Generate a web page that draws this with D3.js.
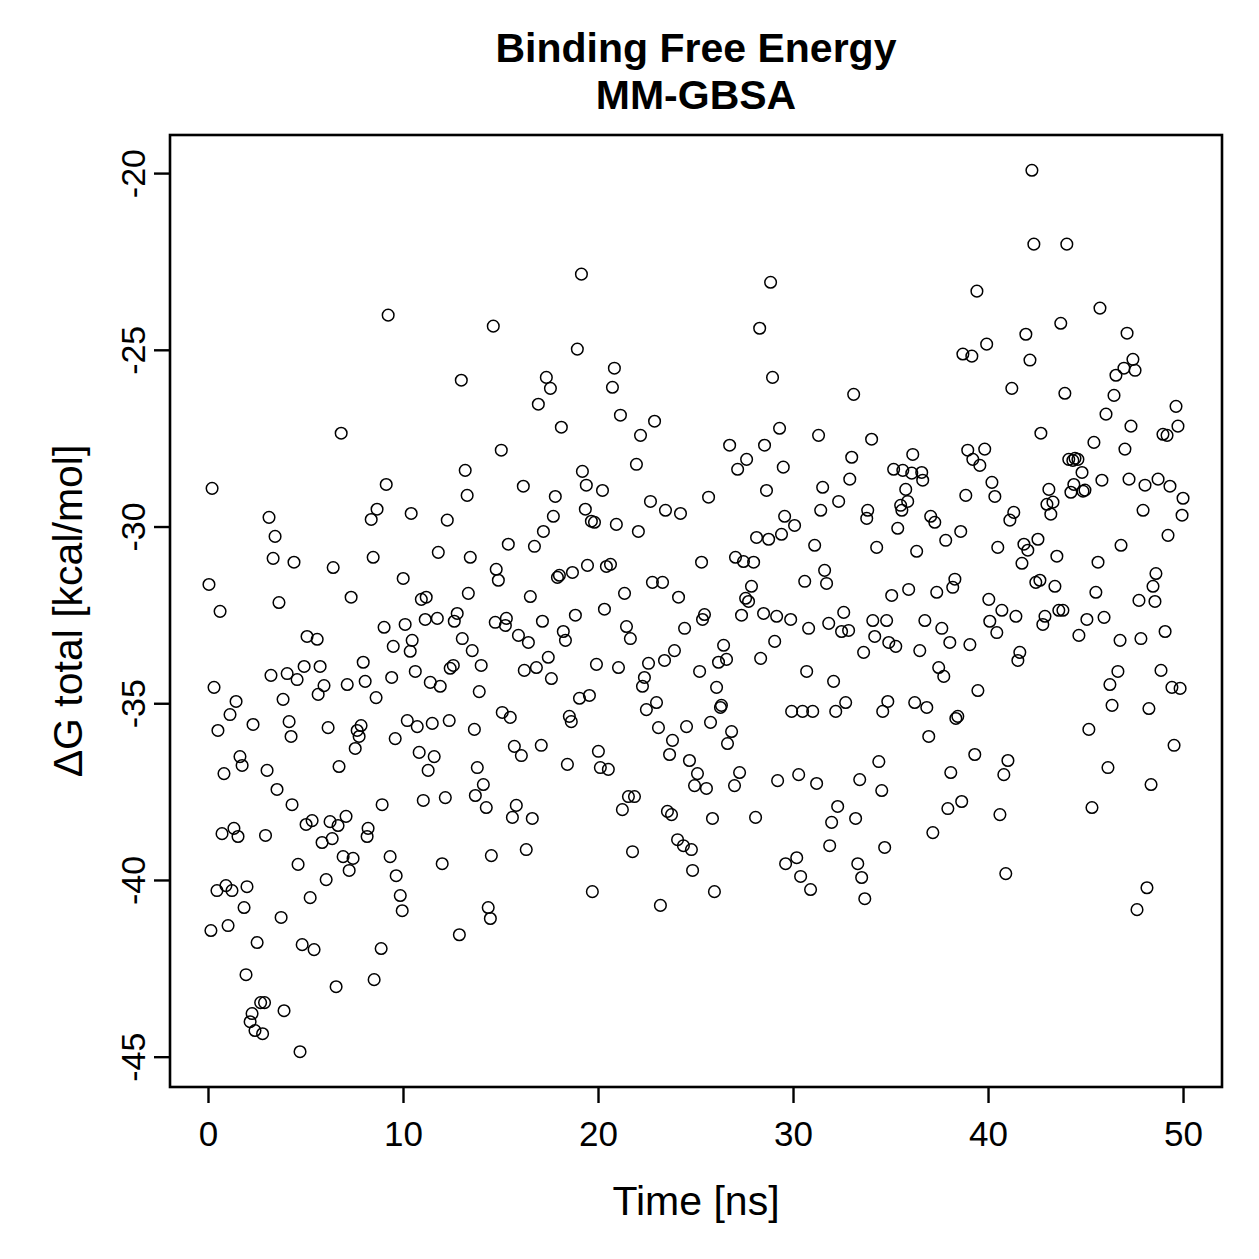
<!DOCTYPE html>
<html>
<head>
<meta charset="utf-8">
<script src="https://cdn.jsdelivr.net/npm/d3@7"></script>
<style>
  html, body { margin: 0; padding: 0; background: #fff; }
  svg text { font-family: "Liberation Sans", Arial, Helvetica, sans-serif; fill: #000; }
</style>
</head>
<body>
<svg id="chart" width="1259" height="1259"></svg>
<script>
// [time (ns), dG total (kcal/mol)]
const frames = [
  [0.05,-31.64],[0.15,-41.43],[0.21,-28.92],[0.31,-34.55],[0.46,-40.30],[0.51,-35.77],[0.62,-32.40],[0.72,-38.69],[0.82,-36.99],[0.92,-40.16],
  [1.03,-41.29],[1.13,-35.32],[1.23,-40.30],[1.33,-38.54],[1.44,-34.95],[1.54,-38.77],[1.64,-36.51],[1.75,-36.76],[1.85,-40.78],[1.95,-42.68],
  [2.00,-40.19],[2.16,-44.01],[2.26,-43.78],[2.31,-35.60],[2.41,-44.26],[2.52,-41.77],[2.70,-43.47],[2.80,-44.35],[2.90,-43.47],[2.95,-38.74],
  [3.03,-36.90],[3.13,-29.74],[3.23,-34.21],[3.34,-30.90],[3.44,-30.28],[3.54,-37.44],[3.64,-32.15],[3.75,-41.06],[3.85,-34.89],[3.90,-43.70],
  [4.06,-34.16],[4.16,-35.52],[4.26,-35.94],[4.31,-37.87],[4.41,-31.01],[4.57,-34.33],[4.62,-39.56],[4.72,-44.86],[4.83,-41.83],[4.93,-33.96],
  [5.03,-38.43],[5.08,-33.11],[5.24,-40.50],[5.34,-38.32],[5.44,-41.97],[5.60,-33.19],[5.65,-34.75],[5.75,-33.96],[5.85,-38.94],[5.95,-34.50],
  [6.06,-39.99],[6.16,-35.69],[6.26,-38.35],[6.37,-38.83],[6.42,-31.16],[6.57,-43.02],[6.67,-38.46],[6.72,-36.79],[6.83,-27.36],[6.93,-39.34],
  [7.08,-38.20],[7.14,-34.47],[7.24,-39.73],[7.34,-32.00],[7.44,-39.39],[7.55,-36.28],[7.65,-35.77],[7.75,-35.94],[7.85,-35.63],[7.96,-33.84],
  [8.06,-34.38],[8.16,-38.77],[8.21,-38.54],[8.37,-29.80],[8.47,-30.87],[8.52,-42.82],[8.62,-34.84],[8.67,-29.51],[8.88,-41.94],[8.93,-37.87],
  [9.03,-32.85],[9.14,-28.81],[9.24,-24.02],[9.34,-39.34],[9.42,-34.27],[9.50,-33.39],[9.60,-36.00],[9.65,-39.88],[9.86,-40.44],[9.96,-40.87],
  [10.01,-31.47],[10.11,-32.77],[10.22,-35.49],[10.37,-33.53],[10.42,-29.63],[10.47,-33.22],[10.63,-34.10],[10.73,-35.66],[10.83,-36.39],[10.94,-32.06],
  [11.04,-37.75],[11.14,-32.63],[11.19,-32.00],[11.29,-36.90],[11.40,-34.41],[11.50,-35.57],[11.60,-36.51],[11.76,-32.60],[11.81,-30.73],[11.91,-34.52],
  [12.01,-39.54],[12.17,-37.67],[12.27,-29.82],[12.37,-35.49],[12.42,-34.01],[12.58,-33.93],[12.63,-32.68],[12.78,-32.46],[12.89,-41.55],[12.99,-25.86],
  [13.04,-33.17],[13.19,-28.41],[13.29,-29.12],[13.35,-31.89],[13.45,-30.87],[13.55,-33.51],[13.66,-35.74],[13.71,-37.61],[13.81,-36.82],[13.91,-34.67],
  [14.01,-33.93],[14.12,-37.30],[14.27,-37.95],[14.37,-40.78],[14.48,-41.09],[14.53,-39.31],[14.63,-24.33],[14.73,-32.71],[14.78,-31.21],[14.89,-31.52],
  [15.04,-27.84],[15.09,-35.26],[15.25,-32.80],[15.30,-32.60],[15.40,-30.50],[15.50,-35.40],[15.61,-38.23],[15.71,-36.22],[15.81,-37.89],[15.92,-33.08],
  [16.07,-36.48],[16.17,-28.86],[16.22,-34.07],[16.32,-39.14],[16.43,-33.28],[16.53,-31.98],[16.63,-38.26],[16.74,-30.56],[16.84,-33.99],[16.94,-26.54],
  [17.09,-36.19],[17.15,-32.68],[17.20,-30.14],[17.35,-25.78],[17.45,-33.70],[17.56,-26.09],[17.61,-34.30],[17.71,-29.71],[17.81,-29.15],[17.92,-31.44],
  [18.02,-31.38],[18.12,-27.19],[18.22,-32.97],[18.33,-33.22],[18.43,-36.73],[18.53,-35.37],[18.63,-35.52],[18.69,-31.30],[18.84,-32.51],[18.94,-24.98],
  [19.05,-34.86],[19.15,-22.86],[19.20,-28.44],[19.35,-29.51],[19.40,-28.83],[19.46,-31.10],[19.56,-34.78],[19.66,-29.85],[19.71,-40.33],[19.82,-29.88],
  [19.92,-33.90],[20.02,-36.36],[20.12,-36.82],[20.23,-28.98],[20.33,-32.34],[20.43,-31.13],[20.53,-36.87],[20.64,-31.07],[20.74,-26.06],[20.84,-25.52],
  [20.94,-29.94],[21.05,-33.99],[21.15,-26.85],[21.25,-38.01],[21.36,-31.89],[21.46,-32.83],[21.56,-37.64],[21.66,-33.17],[21.77,-39.20],[21.87,-37.64],
  [21.97,-28.24],[22.07,-30.14],[22.18,-27.42],[22.28,-34.52],[22.38,-34.27],[22.48,-35.18],[22.59,-33.87],[22.69,-29.29],[22.79,-31.58],[22.90,-27.02],
  [23.00,-34.98],[23.10,-35.69],[23.20,-40.72],[23.31,-31.58],[23.41,-33.79],[23.46,-29.54],[23.56,-38.06],[23.67,-36.45],[23.77,-38.15],[23.82,-36.05],
  [23.92,-33.51],[24.08,-38.86],[24.13,-32.00],[24.23,-29.63],[24.38,-39.03],[24.44,-32.88],[24.54,-35.66],[24.69,-36.62],[24.79,-39.14],[24.85,-39.73],
  [24.95,-37.33],[25.10,-36.99],[25.21,-34.10],[25.31,-31.01],[25.36,-32.63],[25.46,-32.49],[25.56,-37.41],[25.67,-29.17],[25.77,-35.54],[25.87,-38.26],
  [25.97,-40.33],[26.08,-34.55],[26.18,-33.84],[26.28,-35.12],[26.33,-35.06],[26.44,-33.36],[26.59,-33.76],[26.64,-36.14],[26.75,-27.70],[26.85,-35.80],
  [27.00,-37.33],[27.05,-30.87],[27.16,-28.38],[27.26,-36.96],[27.36,-32.51],[27.46,-30.99],[27.57,-32.03],[27.62,-28.10],[27.72,-32.12],[27.87,-31.69],
  [27.98,-31.01],[28.08,-38.23],[28.13,-30.31],[28.29,-24.39],[28.34,-33.73],[28.49,-32.46],[28.54,-27.70],[28.64,-28.98],[28.75,-30.36],[28.85,-23.09],
  [28.95,-25.78],[29.06,-33.25],[29.16,-32.54],[29.21,-37.19],[29.31,-27.22],[29.41,-30.22],[29.50,-28.32],[29.57,-29.71],[29.62,-39.54],[29.88,-32.63],
  [29.93,-35.23],[30.08,-29.97],[30.19,-39.37],[30.29,-37.02],[30.39,-39.90],[30.49,-35.23],[30.60,-31.55],[30.70,-34.10],[30.80,-32.88],[30.90,-40.27],
  [31.01,-35.23],[31.11,-30.53],[31.21,-37.27],[31.31,-27.42],[31.42,-29.54],[31.52,-28.89],[31.62,-31.24],[31.72,-31.61],[31.83,-32.74],[31.88,-39.03],
  [31.98,-38.37],[32.08,-34.38],[32.19,-35.23],[32.29,-37.92],[32.34,-29.29],[32.49,-32.97],[32.60,-32.43],[32.70,-34.98],[32.85,-32.94],[32.91,-28.66],
  [33.01,-28.04],[33.11,-26.26],[33.21,-38.26],[33.32,-39.54],[33.42,-37.16],[33.52,-39.93],[33.62,-33.56],[33.68,-40.53],[33.78,-29.77],[33.83,-29.54],
  [34.03,-27.53],[34.09,-32.66],[34.19,-33.11],[34.29,-30.59],[34.40,-36.65],[34.55,-37.47],[34.60,-35.23],[34.70,-39.08],[34.80,-32.66],[34.86,-34.95],
  [34.91,-33.28],[35.06,-31.95],[35.16,-28.38],[35.27,-33.39],[35.37,-30.05],[35.52,-29.40],[35.58,-29.54],[35.63,-28.41],[35.78,-28.95],[35.88,-29.29],
  [35.93,-31.78],[36.09,-28.49],[36.14,-27.96],[36.24,-34.98],[36.34,-30.70],[36.50,-33.51],[36.60,-28.47],[36.65,-28.69],[36.76,-32.66],[36.86,-35.12],
  [36.96,-35.94],[37.06,-29.71],[37.17,-38.66],[37.27,-29.88],[37.37,-31.86],[37.47,-33.99],[37.63,-32.88],[37.73,-34.24],[37.83,-30.39],[37.94,-37.98],
  [38.04,-33.28],[38.09,-36.96],[38.19,-31.72],[38.30,-31.49],[38.35,-35.43],[38.45,-35.37],[38.60,-30.14],[38.65,-37.78],[38.71,-25.12],[38.86,-29.12],
  [38.96,-27.84],[39.07,-33.34],[39.17,-25.18],[39.22,-28.10],[39.32,-36.45],[39.43,-23.34],[39.48,-34.64],[39.58,-28.27],[39.83,-27.81],[39.93,-24.84],
  [40.04,-32.06],[40.09,-32.68],[40.20,-28.75],[40.35,-29.15],[40.45,-33.00],[40.50,-30.59],[40.61,-38.15],[40.71,-32.37],[40.81,-37.02],[40.91,-39.82],
  [41.02,-36.62],[41.12,-29.82],[41.22,-26.09],[41.32,-29.60],[41.43,-32.54],[41.53,-33.79],[41.63,-33.56],[41.74,-31.04],[41.84,-30.50],[41.94,-24.56],
  [42.04,-30.67],[42.15,-25.29],[42.25,-19.92],[42.35,-22.01],[42.45,-31.58],[42.56,-30.36],[42.66,-31.52],[42.71,-27.36],[42.81,-32.77],[42.92,-32.54],
  [43.02,-29.37],[43.12,-28.95],[43.22,-29.65],[43.33,-29.31],[43.43,-31.69],[43.53,-30.84],[43.63,-32.37],[43.73,-24.25],[43.84,-32.37],[43.94,-26.23],
  [44.04,-22.01],[44.14,-28.10],[44.25,-29.03],[44.35,-28.13],[44.40,-28.81],[44.46,-28.07],[44.61,-28.10],[44.66,-33.08],[44.82,-28.47],[44.87,-29.00],
  [44.97,-28.97],[45.07,-32.63],[45.17,-35.74],[45.33,-37.95],[45.43,-27.62],[45.53,-31.86],[45.64,-31.01],[45.74,-23.82],[45.84,-28.69],[45.95,-32.57],
  [46.05,-26.82],[46.15,-36.82],[46.25,-34.47],[46.36,-35.06],[46.46,-26.29],[46.56,-25.72],[46.66,-34.10],[46.77,-33.22],[46.82,-30.53],[46.97,-25.52],
  [47.02,-27.81],[47.13,-24.53],[47.23,-28.66],[47.33,-27.16],[47.43,-25.27],[47.54,-25.58],[47.64,-40.84],[47.74,-32.09],[47.84,-33.17],[47.95,-29.54],
  [48.05,-28.83],[48.15,-40.22],[48.25,-35.15],[48.36,-37.30],[48.46,-31.69],[48.56,-32.12],[48.61,-31.33],[48.72,-28.66],[48.87,-34.07],[48.97,-27.39],
  [49.08,-32.97],[49.18,-27.42],[49.23,-30.25],[49.33,-28.86],[49.43,-34.55],[49.54,-36.19],[49.64,-26.60],[49.74,-27.16],[49.85,-34.58],[49.95,-29.68],
  [50.00,-29.20]
];

const xTicks = [0, 10, 20, 30, 40, 50];
const yTicks = [-45, -40, -35, -30, -25, -20];
const titleLines = ['Binding Free Energy', 'MM-GBSA'];
const xLabel = 'Time [ns]';
const yLabel = '\u0394G total [kcal/mol]';

const svg = d3.select('#chart');

// plot box (R style)
const box = { left: 170, right: 1222, top: 135, bottom: 1087 };

// R pads each range by 4%
function padded(ext) {
    const d = (ext[1] - ext[0]) * 0.04;
    return [ext[0] - d, ext[1] + d];
}

const x = d3.scaleLinear()
    .domain(padded(d3.extent(frames, d => d[0])))
    .range([box.left, box.right]);

const y = d3.scaleLinear()
    .domain(padded(d3.extent(frames, d => d[1])))
    .range([box.bottom, box.top]);

// points
svg.append('g')
    .selectAll('circle')
    .data(frames)
    .enter()
    .append('circle')
    .attr('cx', d => x(d[0]))
    .attr('cy', d => y(d[1]))
    .attr('r', 5.8)
    .attr('fill', 'none')
    .attr('stroke', '#000')
    .attr('stroke-width', 1.5);

// box
svg.append('rect')
    .attr('x', box.left)
    .attr('y', box.top)
    .attr('width', box.right - box.left)
    .attr('height', box.bottom - box.top)
    .attr('fill', 'none')
    .attr('stroke', '#000')
    .attr('stroke-width', 2.6);

// x axis
const xAxis = svg.append('g')
    .attr('transform', `translate(0,${box.bottom})`)
    .call(d3.axisBottom(x).tickValues(xTicks).tickSize(16).tickSizeOuter(0).tickPadding(18));

xAxis.select('.domain').remove();
xAxis.selectAll('line').attr('stroke-width', 2.4);
xAxis.selectAll('text')
    .style('font-size', '35px')
    .attr('dy', '0.71em');

// y axis, labels rotated like R's default (plain hyphen for minus)
const yAxis = svg.append('g')
    .attr('transform', `translate(${box.left},0)`)
    .call(d3.axisLeft(y).tickValues(yTicks).tickSize(16).tickSizeOuter(0).tickFormat(d => String(d)));

yAxis.select('.domain').remove();
yAxis.selectAll('line').attr('stroke-width', 2.4);
yAxis.selectAll('text')
    .attr('x', null)
    .attr('dy', null)
    .attr('text-anchor', 'middle')
    .attr('transform', 'translate(-25,0) rotate(-90)')
    .style('font-size', '34px');

// title
svg.selectAll('.title')
    .data(titleLines)
    .enter()
    .append('text')
    .attr('class', 'title')
    .attr('x', (box.left + box.right) / 2)
    .attr('y', (d, i) => 62 + i * 47)
    .attr('text-anchor', 'middle')
    .style('font-size', '41px')
    .style('font-weight', 'bold')
    .text(d => d);

// axis titles
svg.append('text')
    .attr('x', (box.left + box.right) / 2)
    .attr('y', 1215)
    .attr('text-anchor', 'middle')
    .style('font-size', '41px')
    .text(xLabel);

svg.append('text')
    .attr('transform', `translate(82,${(box.top + box.bottom) / 2}) rotate(-90)`)
    .attr('text-anchor', 'middle')
    .style('font-size', '41px')
    .text(yLabel);
</script>
</body>
</html>
